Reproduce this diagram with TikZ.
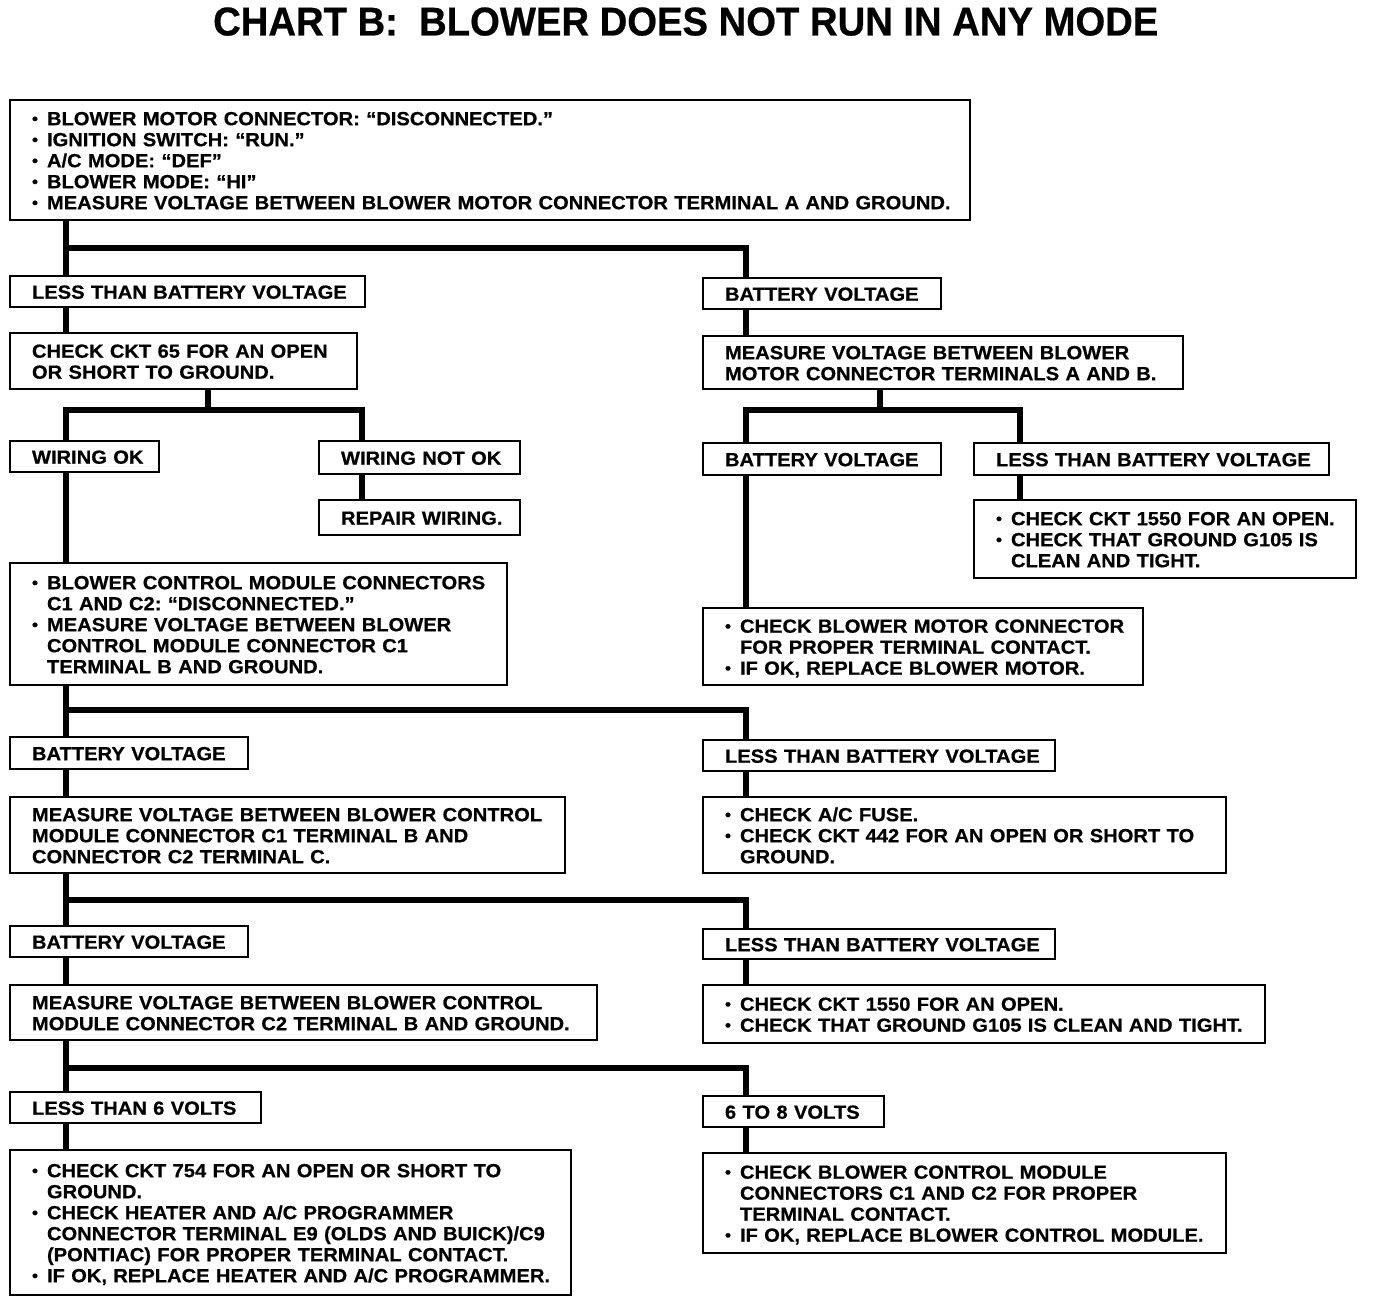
\documentclass[tikz,border=0pt]{standalone}
\usepackage{fontspec}
\setmainfont{Liberation Sans}[FakeStretch=1.06,BoldFeatures={FakeBold=0.6}]
\usepackage{graphicx}
\frenchspacing
\newcommand{\bt}{\makebox[15pt][l]{\raisebox{1pt}{\scalebox{0.85}{•}}}}
\newcommand{\ct}{\hspace*{15pt}}
\newcommand{\bx}[6]{%
  \pgfmathsetmacro{\bw}{#4-#2}%
  \pgfmathsetmacro{\bh}{#5-#3}%
  \pgfmathsetmacro{\tw}{#4-#2-44}%
  \node[box, minimum width=\bw pt, minimum height=\bh pt, text width=\tw pt] (#1) at (#2,#3)
    {\raisebox{0pt}[\dimexpr\height+6pt\relax][\depth]{\begin{tabular}{@{}l@{}}#6\end{tabular}}};}
\begin{document}
\begin{tikzpicture}[x=1pt,y=-1pt,
  box/.style={draw, line width=2.6pt, anchor=north west, inner xsep=22pt, inner ysep=0pt,
    outer sep=0pt, align=left, font=\fontsize{19}{21}\selectfont\bfseries\frenchspacing},
  conn/.style={line width=6pt, line join=miter}]
\useasboundingbox[fill=white] (0,0) rectangle (1376,1302);
\node[anchor=south west, inner sep=0pt] (title) at (213,36)
  {\resizebox{945pt}{28pt}{\bfseries CHART B:\ \ BLOWER DOES NOT RUN IN ANY MODE}};

\bx{b1}{10}{100}{970}{220}{\bt BLOWER MOTOR CONNECTOR: “DISCONNECTED.”\\\bt IGNITION SWITCH: “RUN.”\\\bt A/C MODE: “DEF”\\\bt BLOWER MODE: “HI”\\\bt MEASURE VOLTAGE BETWEEN BLOWER MOTOR CONNECTOR TERMINAL A AND GROUND.}
\bx{lt1}{10}{276}{365}{307}{LESS THAN BATTERY VOLTAGE}
\bx{bv1}{703}{278}{941}{309}{BATTERY VOLTAGE}
\bx{ck65}{10}{333}{357}{389}{CHECK CKT 65 FOR AN OPEN\\OR SHORT TO GROUND.}
\bx{mab}{703}{336}{1183}{389}{MEASURE VOLTAGE BETWEEN BLOWER\\MOTOR CONNECTOR TERMINALS A AND B.}
\bx{wok}{10}{441}{159}{472}{WIRING OK}
\bx{wnok}{319}{441}{520}{474}{WIRING NOT OK}
\bx{bv2}{703}{443}{941}{475}{BATTERY VOLTAGE}
\bx{lt2}{974}{443}{1329}{475}{LESS THAN BATTERY VOLTAGE}
\bx{rep}{319}{500}{520}{535}{REPAIR WIRING.}
\bx{c1550a}{974}{500}{1356}{578}{\bt CHECK CKT 1550 FOR AN OPEN.\\\bt CHECK THAT GROUND G105 IS\\\ct CLEAN AND TIGHT.}
\bx{bcm1}{10}{563}{507}{685}{\bt BLOWER CONTROL MODULE CONNECTORS\\\ct C1 AND C2: “DISCONNECTED.”\\\bt MEASURE VOLTAGE BETWEEN BLOWER\\\ct CONTROL MODULE CONNECTOR C1\\\ct TERMINAL B AND GROUND.}
\bx{chkbm}{703}{608}{1143}{685}{\bt CHECK BLOWER MOTOR CONNECTOR\\\ct FOR PROPER TERMINAL CONTACT.\\\bt IF OK, REPLACE BLOWER MOTOR.}
\bx{bv3}{10}{737}{248}{769}{BATTERY VOLTAGE}
\bx{lt3}{703}{740}{1055}{771}{LESS THAN BATTERY VOLTAGE}
\bx{meas2}{10}{797}{565}{873}{MEASURE VOLTAGE BETWEEN BLOWER CONTROL\\MODULE CONNECTOR C1 TERMINAL B AND\\CONNECTOR C2 TERMINAL C.}
\bx{chkac}{703}{797}{1226}{873}{\bt CHECK A/C FUSE.\\\bt CHECK CKT 442 FOR AN OPEN OR SHORT TO\\\ct GROUND.}
\bx{bv4}{10}{926}{248}{957}{BATTERY VOLTAGE}
\bx{lt4}{703}{929}{1055}{959}{LESS THAN BATTERY VOLTAGE}
\bx{meas3}{10}{985}{597}{1040}{MEASURE VOLTAGE BETWEEN BLOWER CONTROL\\MODULE CONNECTOR C2 TERMINAL B AND GROUND.}
\bx{c1550b}{703}{985}{1265}{1043}{\bt CHECK CKT 1550 FOR AN OPEN.\\\bt CHECK THAT GROUND G105 IS CLEAN AND TIGHT.}
\bx{l6v}{10}{1092}{261}{1123}{LESS THAN 6 VOLTS}
\bx{v68}{703}{1096}{884}{1127}{6 TO 8 VOLTS}
\bx{ck754}{10}{1150}{571}{1295}{\bt CHECK CKT 754 FOR AN OPEN OR SHORT TO\\\ct GROUND.\\\bt CHECK HEATER AND A/C PROGRAMMER\\\ct CONNECTOR TERMINAL E9 (OLDS AND BUICK)/C9\\\ct (PONTIAC) FOR PROPER TERMINAL CONTACT.\\\bt IF OK, REPLACE HEATER AND A/C PROGRAMMER.}
\bx{chkbcm}{703}{1153}{1226}{1253}{\bt CHECK BLOWER CONTROL MODULE\\\ct CONNECTORS C1 AND C2 FOR PROPER\\\ct TERMINAL CONTACT.\\\bt IF OK, REPLACE BLOWER CONTROL MODULE.}

\coordinate (xL) at (66,0);
\coordinate (xR) at (746,0);
\coordinate (xA) at (208,0);
\coordinate (xW) at (362,0);
\coordinate (xM) at (880,0);
\coordinate (xS) at (1020,0);
\coordinate (j1) at (0,248);
\coordinate (j2) at (0,410);
\coordinate (j3) at (0,710);
\coordinate (j4) at (0,900);
\coordinate (j5) at (0,1068);

\draw[conn] (xL|-b1.south) -- (xL|-lt1.north);
\draw[conn] (xL|-j1) -| (xR|-bv1.north);
\draw[conn] (xL|-lt1.south) -- (xL|-ck65.north);
\draw[conn] (xR|-bv1.south) -- (xR|-mab.north);
\draw[conn] (xA|-ck65.south) -- (xA|-j2);
\draw[conn] (xL|-wok.north) |- (xW|-j2) -- (xW|-wnok.north);
\draw[conn] (xW|-wnok.south) -- (xW|-rep.north);
\draw[conn] (xL|-wok.south) -- (xL|-bcm1.north);
\draw[conn] (xM|-mab.south) -- (xM|-j2);
\draw[conn] (xR|-bv2.north) |- (xS|-j2) -- (xS|-lt2.north);
\draw[conn] (xS|-lt2.south) -- (xS|-c1550a.north);
\draw[conn] (xR|-bv2.south) -- (xR|-chkbm.north);
\draw[conn] (xL|-bcm1.south) -- (xL|-bv3.north);
\draw[conn] (xL|-j3) -| (xR|-lt3.north);
\draw[conn] (xL|-bv3.south) -- (xL|-meas2.north);
\draw[conn] (xR|-lt3.south) -- (xR|-chkac.north);
\draw[conn] (xL|-meas2.south) -- (xL|-bv4.north);
\draw[conn] (xL|-j4) -| (xR|-lt4.north);
\draw[conn] (xL|-bv4.south) -- (xL|-meas3.north);
\draw[conn] (xR|-lt4.south) -- (xR|-c1550b.north);
\draw[conn] (xL|-meas3.south) -- (xL|-l6v.north);
\draw[conn] (xL|-j5) -| (xR|-v68.north);
\draw[conn] (xL|-l6v.south) -- (xL|-ck754.north);
\draw[conn] (xR|-v68.south) -- (xR|-chkbcm.north);
\end{tikzpicture}
\end{document}
